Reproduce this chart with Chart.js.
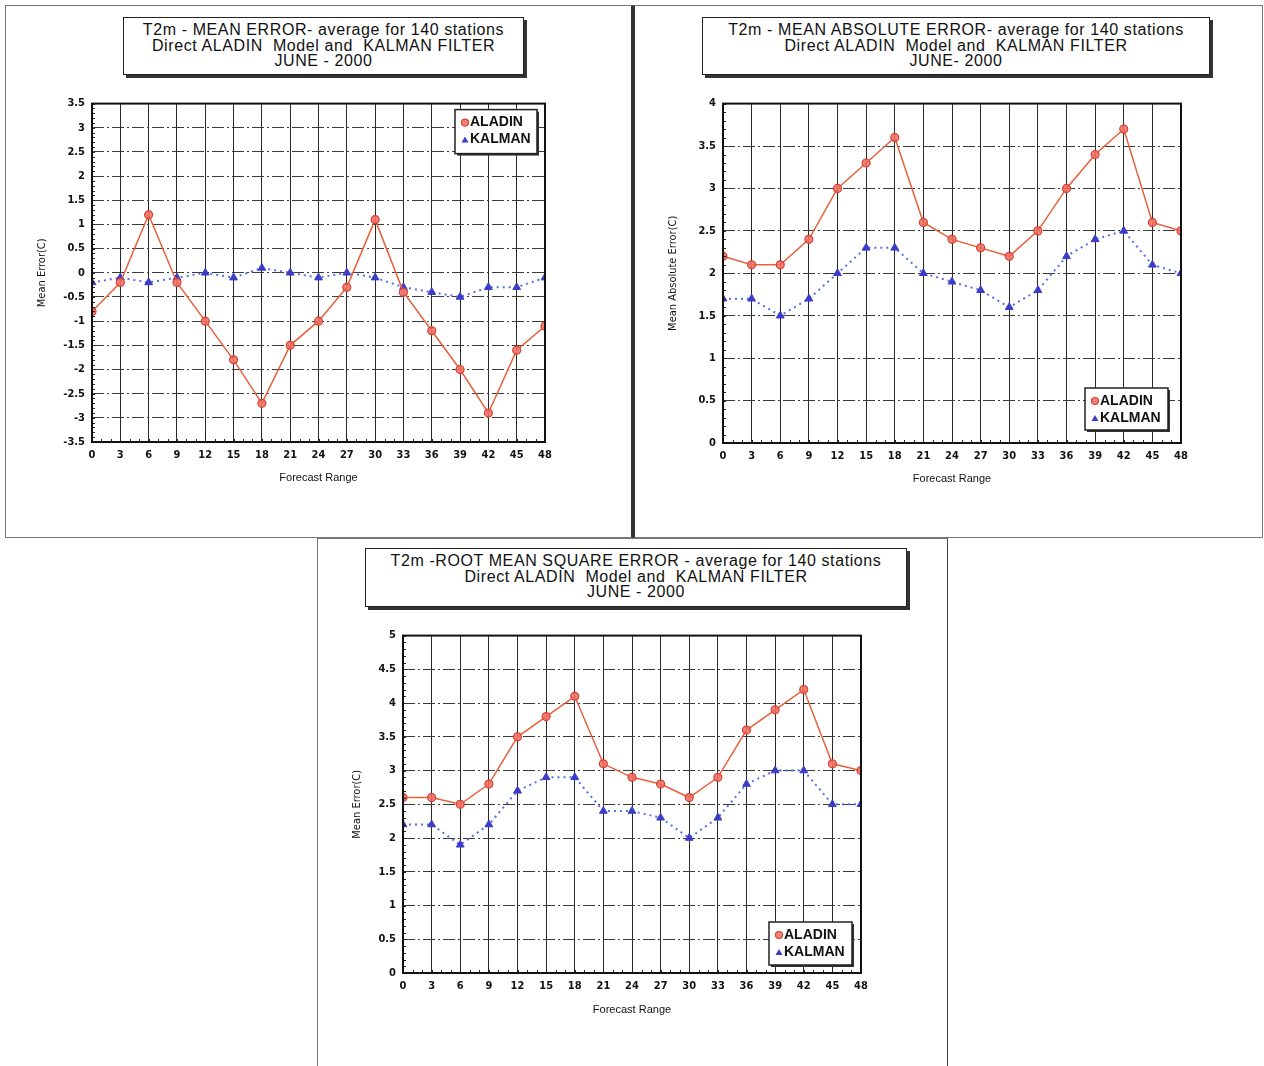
<!DOCTYPE html>
<html>
<head>
<meta charset="utf-8">
<script src="https://cdn.jsdelivr.net/npm/chart.js@4.4.1/dist/chart.umd.min.js"></script>
<style>
  body { margin: 0; background: #fff; width: 1264px; height: 1066px; position: relative; overflow: hidden;
         font-family: "Liberation Sans", Arial, sans-serif; }
  .frame { position: absolute; box-sizing: border-box; border: 1px solid #777; }
  .tbox { position: absolute; box-sizing: border-box; border: 1.5px solid #222; box-shadow: 3px 3px 0 #333;
          background: #fff; text-align: center; font-size: 16px; letter-spacing: 0.6px; line-height: 15.5px;
          color: #111; padding-top: 4px; white-space: nowrap; }
  canvas { position: absolute; }
</style>
</head>
<body>

<div class="frame" style="left:5px;top:5px;width:628px;height:533px;border-right:2px solid #333;"></div>
<div class="frame" style="left:633px;top:5px;width:630px;height:533px;border-left:2px solid #333;"></div>
<div class="frame" style="left:317px;top:538px;width:631px;height:540px;border-right:1.5px solid #444;"></div>

<div class="tbox" style="left:123px;top:17px;width:401px;height:58px;">
  T2m - MEAN ERROR- average for 140 stations<br>Direct ALADIN&nbsp; Model and&nbsp; KALMAN FILTER<br>JUNE - 2000
</div>
<div class="tbox" style="left:702px;top:17px;width:508px;height:58px;">
  T2m - MEAN ABSOLUTE ERROR- average for 140 stations<br>Direct ALADIN&nbsp; Model and&nbsp; KALMAN FILTER<br>JUNE- 2000
</div>
<div class="tbox" style="left:365px;top:548px;width:542px;height:59px;">
  T2m -ROOT MEAN SQUARE ERROR - average for 140 stations<br>Direct ALADIN&nbsp; Model and&nbsp; KALMAN FILTER<br>JUNE - 2000
</div>

<canvas id="meChart" width="545" height="405" style="left:20px;top:90px;"></canvas>
<canvas id="maeChart" width="560" height="405" style="left:650px;top:90px;"></canvas>
<canvas id="rmseChart" width="560" height="405" style="left:330px;top:622px;"></canvas>

<script>
// forecast range (hours)
const forecastRange = [0, 3, 6, 9, 12, 15, 18, 21, 24, 27, 30, 33, 36, 39, 42, 45, 48];

// Mean error
const meAladin = [-0.8, -0.2, 1.2, -0.2, -1.0, -1.8, -2.7, -1.5, -1.0, -0.3, 1.1, -0.4, -1.2, -2.0, -2.9, -1.6, -1.1];
const meKalman = [-0.2, -0.1, -0.2, -0.1, 0.0, -0.1, 0.1, 0.0, -0.1, 0.0, -0.1, -0.3, -0.4, -0.5, -0.3, -0.3, -0.1];

// Mean absolute error
const maeAladin = [2.2, 2.1, 2.1, 2.4, 3.0, 3.3, 3.6, 2.6, 2.4, 2.3, 2.2, 2.5, 3.0, 3.4, 3.7, 2.6, 2.5];
const maeKalman = [1.7, 1.7, 1.5, 1.7, 2.0, 2.3, 2.3, 2.0, 1.9, 1.8, 1.6, 1.8, 2.2, 2.4, 2.5, 2.1, 2.0];

// Root mean square error
const rmseAladin = [2.6, 2.6, 2.5, 2.8, 3.5, 3.8, 4.1, 3.1, 2.9, 2.8, 2.6, 2.9, 3.6, 3.9, 4.2, 3.1, 3.0];
const rmseKalman = [2.2, 2.2, 1.9, 2.2, 2.7, 2.9, 2.9, 2.4, 2.4, 2.3, 2.0, 2.3, 2.8, 3.0, 3.0, 2.5, 2.5];

const seriesNames = ['ALADIN', 'KALMAN'];

const ALADIN_LINE = '#e8603a';
const KALMAN_LINE = '#5470e8';
const FONT = '"Liberation Sans", Arial, sans-serif';
const TICK_FONT = '"Liberation Sans Narrow", "DejaVu Sans Condensed", "Liberation Sans", Arial, sans-serif';

function toPoints(ys) {
    return forecastRange.map((x, i) => ({ x: x, y: ys[i] }));
}

// plot frame + small minor ticks along left and bottom axes
const framePlugin = {
    id: 'frame',
    afterDraw(chart) {
        const { ctx, chartArea: a, scales } = chart;
        const y = scales.y, x = scales.x;
        ctx.save();
        ctx.strokeStyle = '#222';
        ctx.lineWidth = 1;
        for (let v = y.min; v <= y.max + 1e-9; v += 0.1) {
            const py = Math.round(y.getPixelForValue(v)) + 0.5;
            ctx.beginPath(); ctx.moveTo(a.left, py); ctx.lineTo(a.left + 3, py); ctx.stroke();
        }
        for (let v = x.min; v <= x.max; v += 1) {
            const px = Math.round(x.getPixelForValue(v)) + 0.5;
            ctx.beginPath(); ctx.moveTo(px, a.bottom); ctx.lineTo(px, a.bottom - 3); ctx.stroke();
        }
        ctx.lineWidth = 2;
        ctx.strokeStyle = '#111';
        ctx.strokeRect(a.left, a.top, a.right - a.left, a.bottom - a.top);
        ctx.restore();
    }
};

// boxed legend inside the plot area
const boxLegendPlugin = {
    id: 'boxLegend',
    afterDraw(chart, args, opts) {
        const { ctx, chartArea: a } = chart;
        const w = opts.width, h = opts.height;
        const left = a.right - opts.right - w;
        const top = opts.corner === 'top' ? a.top + opts.inset : a.bottom - opts.inset - h;
        ctx.save();
        ctx.fillStyle = '#333';
        ctx.fillRect(left + 2, top + 2, w, h);
        ctx.fillStyle = '#fff';
        ctx.fillRect(left, top, w, h);
        ctx.strokeStyle = '#222';
        ctx.lineWidth = 1.5;
        ctx.strokeRect(left, top, w, h);
        ctx.font = 'bold 14px ' + FONT;
        ctx.textBaseline = 'middle';
        chart.data.datasets.forEach((ds, i) => {
            const cy = top + 13 + i * 17;
            const mx = left + 10;
            if (ds.pointStyle === 'triangle') {
                ctx.fillStyle = ds.pointBackgroundColor;
                ctx.beginPath();
                ctx.moveTo(mx, cy - 3); ctx.lineTo(mx + 3.5, cy + 3); ctx.lineTo(mx - 3.5, cy + 3);
                ctx.closePath(); ctx.fill();
            } else {
                ctx.fillStyle = ds.pointBackgroundColor;
                ctx.strokeStyle = ds.pointBorderColor;
                ctx.lineWidth = 1.2;
                ctx.beginPath(); ctx.arc(mx, cy, 3.5, 0, Math.PI * 2); ctx.fill(); ctx.stroke();
            }
            ctx.fillStyle = '#111';
            ctx.fillText(ds.label, left + 15, cy);
        });
        ctx.restore();
    }
};

function makeChart(id, cfg) {
    return new Chart(document.getElementById(id), {
        type: 'line',
        data: {
            datasets: [
                {
                    label: seriesNames[0],
                    data: toPoints(cfg.aladin),
                    borderColor: ALADIN_LINE,
                    borderWidth: 1.5,
                    pointStyle: 'circle',
                    pointRadius: 4,
                    pointBackgroundColor: 'rgba(240,110,100,0.85)',
                    pointBorderColor: '#d8402e',
                    pointBorderWidth: 1.2,
                    tension: 0,
                    order: 1
                },
                {
                    label: seriesNames[1],
                    data: toPoints(cfg.kalman),
                    borderColor: KALMAN_LINE,
                    borderWidth: 2,
                    borderDash: [2, 4],
                    pointStyle: 'triangle',
                    pointRadius: 4.5,
                    pointBackgroundColor: '#3c3cc8',
                    pointBorderColor: '#3c3cc8',
                    pointBorderWidth: 1,
                    tension: 0,
                    order: 2
                }
            ]
        },
        options: {
            responsive: false,
            animation: false,
            layout: { padding: { top: cfg.padTop, right: cfg.padRight, left: 0, bottom: 0 } },
            plugins: {
                legend: { display: false },
                tooltip: { enabled: false },
                boxLegend: cfg.legend
            },
            scales: {
                x: {
                    type: 'linear',
                    min: 0, max: 48,
                    afterFit: s => { s.height = cfg.xAxisH; },
                    ticks: {
                        stepSize: 3,
                        padding: 7,
                        color: '#111',
                        font: { family: TICK_FONT, size: 11, weight: 'bold' }
                    },
                    grid: { color: '#2a2a2a', lineWidth: 1, drawTicks: false },
                    border: { display: false },
                    title: {
                        display: true,
                        text: 'Forecast Range',
                        color: '#111',
                        font: { family: FONT, size: 11 },
                        padding: { top: 0, bottom: cfg.xTitlePad }
                    }
                },
                y: {
                    min: cfg.yMin, max: cfg.yMax,
                    afterFit: s => { s.width = cfg.yAxisW; },
                    ticks: {
                        stepSize: 0.5,
                        padding: 7,
                        color: '#111',
                        font: { family: TICK_FONT, size: 11, weight: 'bold' },
                        callback: v => String(v)
                    },
                    grid: { color: '#3a3a3a', lineWidth: 1, drawTicks: false },
                    border: { display: false, dash: [12, 3, 2, 3] },
                    title: {
                        display: true,
                        text: cfg.yTitle,
                        color: '#111',
                        font: { family: TICK_FONT, size: 11 },
                        padding: { top: cfg.yTitlePad, bottom: 0 }
                    }
                }
            }
        },
        plugins: [framePlugin, boxLegendPlugin]
    });
}

makeChart('meChart', {
    aladin: meAladin, kalman: meKalman,
    yMin: -3.5, yMax: 3.5, yTitle: 'Mean Error(C)',
    padTop: 13, padRight: 20, yAxisW: 72, xAxisH: 53, yTitlePad: 16, xTitlePad: 10,
    legend: { corner: 'top', right: 8, inset: 6, width: 82, height: 44 }
});

makeChart('maeChart', {
    aladin: maeAladin, kalman: maeKalman,
    yMin: 0, yMax: 4, yTitle: 'Mean Absolute Error(C)',
    padTop: 13, padRight: 29, yAxisW: 73, xAxisH: 52, yTitlePad: 17, xTitlePad: 9,
    legend: { corner: 'bottom', right: 13, inset: 13, width: 83, height: 42 }
});

makeChart('rmseChart', {
    aladin: rmseAladin, kalman: rmseKalman,
    yMin: 0, yMax: 5, yTitle: 'Mean Error(C)',
    padTop: 13, padRight: 29, yAxisW: 73, xAxisH: 54, yTitlePad: 21, xTitlePad: 10,
    legend: { corner: 'bottom', right: 9, inset: 8, width: 83, height: 43 }
});
</script>
</body>
</html>
